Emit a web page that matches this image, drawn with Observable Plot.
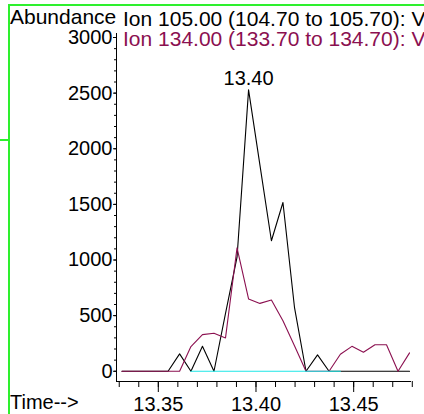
<!DOCTYPE html>
<html><head><meta charset="utf-8">
<script src="https://cdn.jsdelivr.net/npm/d3@7"></script>
<script src="https://cdn.jsdelivr.net/npm/@observablehq/plot@0.6"></script>
<style>
html,body{margin:0;padding:0;background:#fff;overflow:hidden;}
#wrap{position:relative;width:424px;height:414px;overflow:hidden;}
.g{position:absolute;background:#2ef02e;}
</style></head><body>
<div id="wrap">
  <div class="g" style="left:8px;top:4px;width:2px;height:410px"></div>
  <div class="g" style="left:8px;top:4px;width:416px;height:2px"></div>
  <div class="g" style="left:0px;top:139px;width:9px;height:2px"></div>
</div>
<script>
// Retention times (min)
const times = [13.3314, 13.3373, 13.3432, 13.3491, 13.3550, 13.3609, 13.3667, 13.3726, 13.3785,
  13.3844, 13.3903, 13.3962, 13.4020, 13.4079, 13.4138, 13.4197, 13.4256, 13.4315, 13.4374,
  13.4432, 13.4491, 13.4550, 13.4609, 13.4668, 13.4727, 13.4786];
// Ion 105 abundance (black)
const ion105 = [0, 0, 0, 0, 0, 156, 0, 224, 0, 520, 1025, 2529, 1855, 1173, 1517, 575, 0, 147, 0,
  0, 0, 0, 0, 0, 0, 0];
// Ion 134 abundance (purple)
const ion134 = [0, 0, 0, 0, 0, 0, 222, 329, 341, 300, 1110, 650, 610, 641, 455, 230, 0, 0, 0,
  153, 224, 171, 238, 238, 0, 165];
// Third trace (cyan), flat at zero
const ion3Times = [13.3667, 13.3726, 13.3785, 13.3844, 13.3903, 13.3962, 13.4020, 13.4079,
  13.4138, 13.4197, 13.4256, 13.4315, 13.4374, 13.4432];
const ion3 = [0, 0, 0, 0, 0, 0, 0, 0, 0, 0, 0, 0, 0, 0];

const xTicks = [13.35, 13.40, 13.45];
const xMinorTicks = [13.33, 13.34, 13.35, 13.36, 13.37, 13.38, 13.39, 13.40, 13.41, 13.42,
  13.43, 13.44, 13.45, 13.46, 13.47, 13.48];
const yTicks = [0, 500, 1000, 1500, 2000, 2500, 3000];
const yMinorTicks = [0, 100, 200, 300, 400, 500, 600, 700, 800, 900, 1000, 1100, 1200, 1300,
  1400, 1500, 1600, 1700, 1800, 1900, 2000, 2100, 2200, 2300, 2400, 2500, 2600, 2700, 2800, 2900, 3000];

const yTitle = "Abundance";
const trace1Label = "Ion 105.00 (104.70 to 105.70): V";
const trace2Label = "Ion 134.00 (133.70 to 134.70): V";
const xTitle = "Time-->";

const colBlack = "#000000", colPurple = "#8b1050", colCyan = "#1ee6e6";
const xDomain = [13.3286, 13.4796];
const yDomain = [-92, 3036];

const rows105 = times.map((t, i) => ({t, v: ion105[i]}));
const rows134 = times.map((t, i) => ({t, v: ion134[i]}));
const rows3 = ion3Times.map((t, i) => ({t, v: ion3[i]}));
const peak = rows105.reduce((a, b) => (b.v > a.v ? b : a));

const font = "Arial, 'Liberation Sans', sans-serif";
const chart = Plot.plot({
  width: 424, height: 414,
  marginTop: 33, marginBottom: 33, marginLeft: 116, marginRight: 13,
  style: {fontFamily: font, fontSize: "20px", color: "#000", background: "transparent"},
  x: {domain: xDomain},
  y: {domain: yDomain},
  marks: [
    Plot.axisX({ticks: xMinorTicks, tickSize: 6, tickFormat: () => "", label: null}),
    Plot.axisX({ticks: xTicks, tickSize: 11, tickPadding: 4, tickFormat: d3.format(".2f"), label: null}),
    Plot.axisY({ticks: yMinorTicks, tickSize: 2, tickFormat: () => "", label: null}),
    Plot.axisY({ticks: yTicks, tickSize: 3, tickPadding: 1, tickFormat: d3.format("d"), label: null}),
    Plot.ruleX([xDomain[0]], {stroke: "#000"}),
    Plot.ruleY([yDomain[0]], {stroke: "#000"}),
    Plot.line(rows105, {x: "t", y: "v", stroke: colBlack, strokeWidth: 1.1}),
    Plot.line(rows134, {x: "t", y: "v", stroke: colPurple, strokeWidth: 1.1}),
    Plot.line(rows3, {x: "t", y: "v", stroke: colCyan, strokeWidth: 1.1}),
    Plot.text([peak], {x: "t", y: "v", text: d => d3.format(".2f")(d.t), lineAnchor: "bottom", dy: -5, fontSize: 20, fill: "#000"})
  ]
});
document.getElementById("wrap").prepend(chart);

const svg = d3.select(chart);
const addText = (txt, x, y, size, fill) => svg.append("text")
  .attr("x", x).attr("y", y).attr("font-size", size).attr("font-family", font)
  .attr("text-anchor", "start").attr("fill", fill).text(txt);
addText(yTitle, 10, 24, 21, "#000");
addText(trace1Label, 123, 26, 21, colBlack);
addText(trace2Label, 123, 46, 21, colPurple);
addText(xTitle, 10, 409, 20, "#000");
</script>
</body></html>
